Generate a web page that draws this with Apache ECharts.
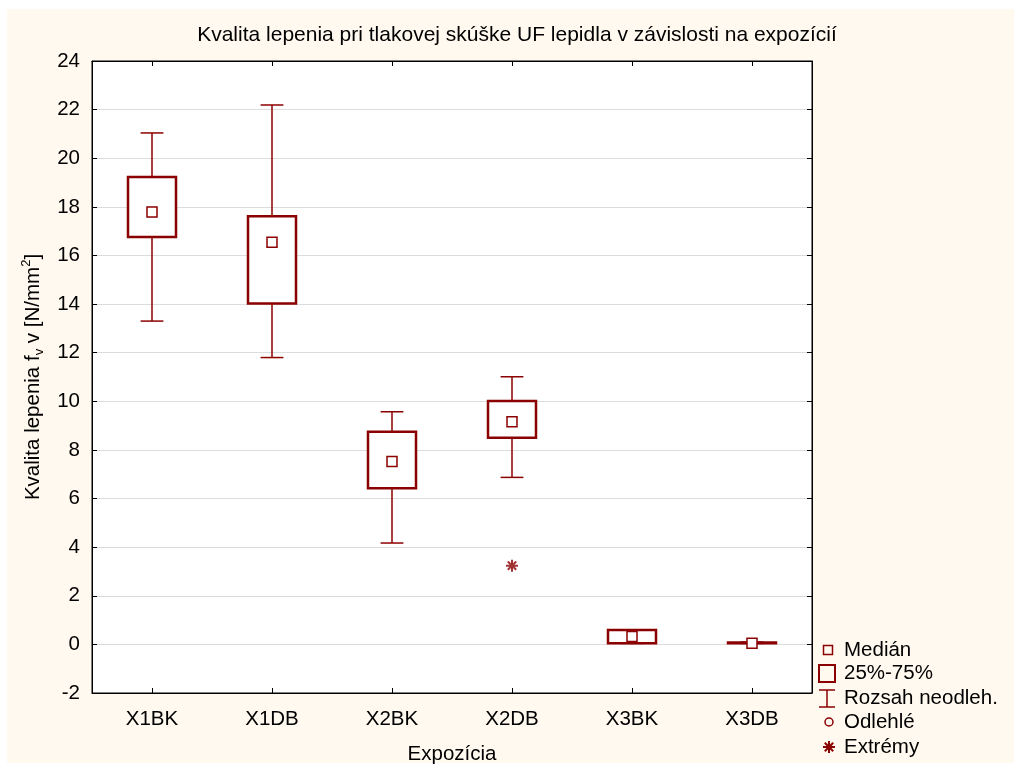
<!DOCTYPE html>
<html>
<head>
<meta charset="utf-8">
<script src="https://cdn.jsdelivr.net/npm/echarts@6/dist/echarts.min.js"></script>
<style>
  html, body { margin: 0; padding: 0; background: #ffffff; }
  #paper { position: absolute; left: 7px; top: 9px; width: 1007px; height: 754px; background: #fff9ef; }
  #chart { position: absolute; left: 0; top: 0; width: 1014px; height: 765px; }
</style>
</head>
<body>
<div id="paper"></div>
<div id="chart"></div>
<script>
// Exposure groups
const categories = ['X1BK', 'X1DB', 'X2BK', 'X2DB', 'X3BK', 'X3DB'];
// Box statistics per group [N/mm2]
const rangeLow  = [13.30, 11.80, 4.17, 6.87, 0.04, 0.04];
const quartile1 = [16.76, 14.02, 6.42, 8.50, 0.05, 0.05];
const medians   = [17.79, 16.54, 7.52, 9.16, 0.32, 0.05];
const quartile3 = [19.23, 17.61, 8.75, 10.01, 0.59, 0.08];
const rangeHigh = [21.04, 22.19, 9.57, 11.01, 0.60, 0.09];
// Extreme values
const extremeGroups = ['X2DB'];
const extremeValues = [3.24];
// Value axis ticks
const yMin = -2, yMax = 24, yStep = 2;

const RED = '#8b0000';
const FONT = '"Liberation Sans", Arial, sans-serif';
const FS = 20.5;

const boxData = categories.map((c, i) => [i, rangeLow[i], quartile1[i], medians[i], quartile3[i], rangeHigh[i]]);
const extremeData = extremeGroups.map((g, i) => [g, extremeValues[i]]);

function renderBox(params, api) {
  const idx = api.value(0);
  const x = api.coord([idx, 0])[0];
  const yLo = api.coord([idx, api.value(1)])[1];
  const yQ1 = api.coord([idx, api.value(2)])[1];
  const yMd = api.coord([idx, api.value(3)])[1];
  const yQ3 = api.coord([idx, api.value(4)])[1];
  const yHi = api.coord([idx, api.value(5)])[1];
  const band = api.size([1, 0])[0];
  const bw = band * 0.4;
  const cw = band * 0.19;
  const ms = 10;
  const wStyle = { stroke: RED, lineWidth: 1.5, fill: null };
  return {
    type: 'group',
    children: [
      { type: 'line', shape: { x1: x, y1: yHi, x2: x, y2: yLo }, style: wStyle },
      { type: 'line', shape: { x1: x - cw / 2, y1: yHi, x2: x + cw / 2, y2: yHi }, style: wStyle },
      { type: 'line', shape: { x1: x - cw / 2, y1: yLo, x2: x + cw / 2, y2: yLo }, style: wStyle },
      { type: 'rect', shape: { x: x - bw / 2, y: yQ3, width: bw, height: Math.max(yQ1 - yQ3, 0.5) },
        style: { fill: '#ffffff', stroke: RED, lineWidth: 2.5 } },
      { type: 'rect', shape: { x: x - ms / 2, y: yMd - ms / 2, width: ms, height: ms },
        style: { fill: '#ffffff', stroke: RED, lineWidth: 1.5 } }
    ]
  };
}

const asteriskPath = 'path://M6,0L6,12M0,6L12,6M1.8,1.8L10.2,10.2M1.8,10.2L10.2,1.8';

const legendItems = [
  { label: 'Medián', y: 650 },
  { label: '25%-75%', y: 673 },
  { label: 'Rozsah neodleh.', y: 698 },
  { label: 'Odlehlé', y: 722 },
  { label: 'Extrémy', y: 747 }
];

const legendGraphics = [];
legendItems.forEach(it => {
  legendGraphics.push({ type: 'text', x: 844, y: it.y,
    style: { text: it.label, fontSize: FS, fontFamily: FONT, fill: '#000', textVerticalAlign: 'middle' } });
});
// legend icons
const ls = (w) => ({ stroke: RED, lineWidth: w, fill: null });
legendGraphics.push(
  { type: 'rect', shape: { x: 823.5, y: 645.5, width: 9, height: 9 }, style: ls(1.5) },
  { type: 'rect', shape: { x: 819, y: 665, width: 16, height: 17 }, style: ls(2) },
  { type: 'line', shape: { x1: 827, y1: 690, x2: 827, y2: 707 }, style: ls(1.5) },
  { type: 'line', shape: { x1: 819, y1: 690, x2: 835, y2: 690 }, style: ls(1.5) },
  { type: 'line', shape: { x1: 819, y1: 707, x2: 835, y2: 707 }, style: ls(1.5) },
  { type: 'circle', shape: { cx: 829, cy: 722, r: 4 }, style: ls(1.5) },
  { type: 'line', shape: { x1: 829, y1: 741, x2: 829, y2: 753 }, style: ls(2) },
  { type: 'line', shape: { x1: 823, y1: 747, x2: 835, y2: 747 }, style: ls(2) },
  { type: 'line', shape: { x1: 824.8, y1: 742.8, x2: 833.2, y2: 751.2 }, style: ls(2) },
  { type: 'line', shape: { x1: 824.8, y1: 751.2, x2: 833.2, y2: 742.8 }, style: ls(2) }
);

const chart = echarts.init(document.getElementById('chart'), null, { renderer: 'canvas' });
chart.setOption({
  backgroundColor: 'transparent',
  animation: false,
  textStyle: { fontFamily: FONT },
  grid: { left: 92, top: 61, width: 720, height: 632, show: true, backgroundColor: '#ffffff',
          borderColor: '#000', borderWidth: 1, containLabel: false, outerBoundsMode: 'none' },
  graphic: [
    { type: 'text', x: 517, y: 35,
      style: { text: 'Kvalita lepenia pri tlakovej skúške UF lepidla v závislosti na expozícií',
               fontSize: 21, fontFamily: FONT, fill: '#000', textAlign: 'center', textVerticalAlign: 'middle' } }
  ].concat(legendGraphics),
  xAxis: [
    { type: 'category', data: categories, position: 'bottom', boundaryGap: true,
      axisLine: { show: true, onZero: false, lineStyle: { color: '#000', width: 1 } },
      axisTick: { show: true, inside: true, alignWithLabel: true, length: 5, lineStyle: { color: '#000' } },
      axisLabel: { color: '#000', fontSize: FS, fontFamily: FONT, margin: 16 },
      splitLine: { show: false },
      name: 'Expozícia', nameLocation: 'middle', nameGap: 51,
      nameTextStyle: { color: '#000', fontSize: FS, fontFamily: FONT } },
    { type: 'category', data: categories, position: 'top', boundaryGap: true,
      axisLine: { show: true, onZero: false, lineStyle: { color: '#000', width: 1 } },
      axisTick: { show: true, inside: true, alignWithLabel: true, length: 5, lineStyle: { color: '#000' } },
      axisLabel: { show: false }, splitLine: { show: false } }
  ],
  yAxis: [
    { type: 'value', min: yMin, max: yMax, interval: yStep, position: 'left',
      axisLine: { show: true, onZero: false, lineStyle: { color: '#000', width: 1 } },
      axisTick: { show: true, inside: true, length: 5, lineStyle: { color: '#000' } },
      axisLabel: { color: '#000', fontSize: FS, fontFamily: FONT, margin: 12 },
      splitLine: { show: true, lineStyle: { color: '#dcdcdc', width: 1 } },
      name: 'Kvalita lepenia f{sub|v} v [N/mm{sup|2}]', nameLocation: 'middle', nameGap: 44, nameRotate: 90,
      nameTextStyle: { color: '#000', fontSize: FS, fontFamily: FONT, lineHeight: 26,
        rich: {
          sub: { fontSize: 13, fontFamily: FONT, color: '#000', verticalAlign: 'bottom', lineHeight: 13 },
          sup: { fontSize: 13, fontFamily: FONT, color: '#000', verticalAlign: 'top', lineHeight: 13 }
        } } },
    { type: 'value', min: yMin, max: yMax, interval: yStep, position: 'right',
      axisLine: { show: true, onZero: false, lineStyle: { color: '#000', width: 1 } },
      axisTick: { show: true, inside: true, length: 5, lineStyle: { color: '#000' } },
      axisLabel: { show: false }, splitLine: { show: false } }
  ],
  series: [
    { type: 'custom', name: 'box', xAxisIndex: 0, yAxisIndex: 0, data: boxData,
      encode: { x: 0, y: [1, 2, 3, 4, 5] }, renderItem: renderBox, z: 3 },
    { type: 'scatter', name: 'Extrémy', xAxisIndex: 0, yAxisIndex: 0, data: extremeData,
      symbol: asteriskPath, symbolSize: 12,
      itemStyle: { color: 'rgba(0,0,0,0)', borderColor: RED, borderWidth: 2 }, z: 4 }
  ]
});
</script>
</body>
</html>
